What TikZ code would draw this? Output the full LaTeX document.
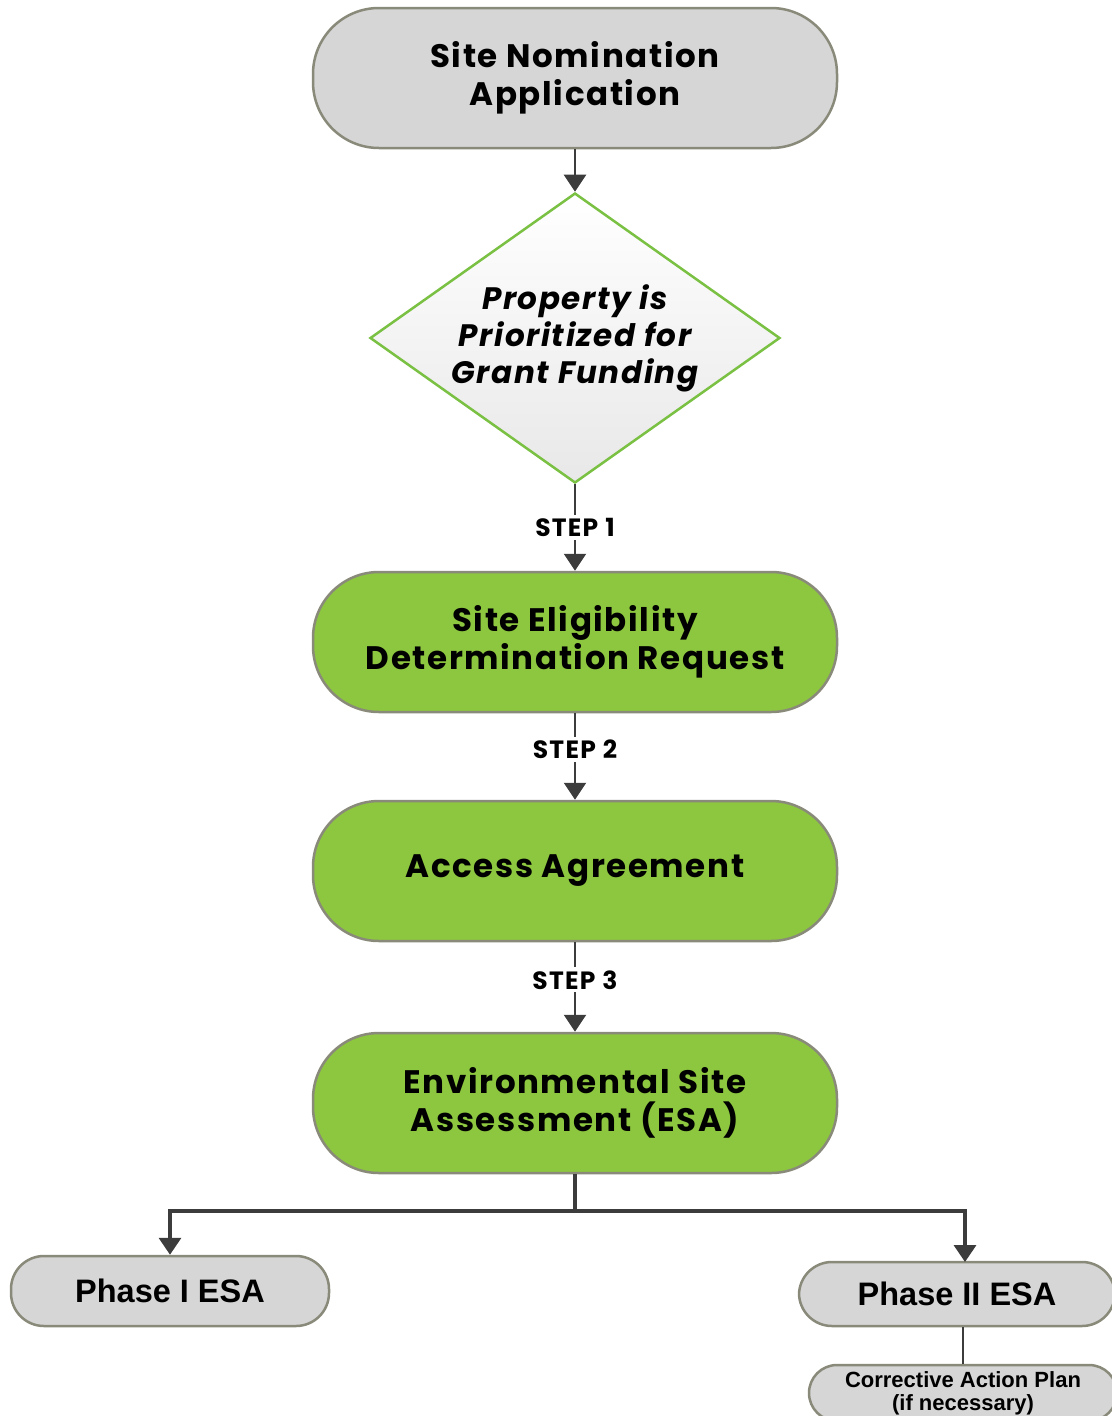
\documentclass[tikz,border=0pt]{standalone}
\usepackage{fontspec}
\setmainfont{Poppins}[LetterSpace=5]
\newfontfamily\arialfont{Liberation Sans}
\usetikzlibrary{arrows.meta,positioning,shapes.geometric}
\definecolor{boxgray}{HTML}{D6D6D6}
\definecolor{boxgreen}{HTML}{8DC63F}
\definecolor{rimgray}{HTML}{8A8A7A}
\definecolor{diagreen}{HTML}{7AC143}
\definecolor{arrowgray}{HTML}{3C3C3C}
\newcommand{\steptext}[1]{STEP\hspace{7pt}#1}
\tikzset{
    stadium/.style={rectangle, rounded corners=66pt, draw=rimgray, line width=2.5pt,
        minimum width=524pt, minimum height=140pt, align=center,
        font=\fontsize{32.5}{38}\selectfont\bfseries},
    graystadium/.style={stadium, fill=boxgray},
    greenstadium/.style={stadium, fill=boxgreen},
    phasebox/.style={rectangle, rounded corners=33pt, draw=rimgray, line width=2.5pt,
        fill=boxgray, align=center, font=\arialfont\fontsize{32.5}{34}\selectfont\bfseries},
    steplabel/.style={fill=white, inner sep=3pt, font=\fontsize{25}{26}\selectfont\bfseries},
    flow/.style={draw=arrowgray, line width=2.5pt, ->},
    >={Triangle[width=22pt,length=17pt]}
}
\begin{document}
\begin{tikzpicture}[x=1pt,y=-1pt]
    \useasboundingbox (0,0) rectangle (1111,1416);

    % Main column
    \node[graystadium] (nomination) at (575,78) {Site Nomination\\Application};
    \node[diamond, draw=diagreen, line width=2.5pt, top color=white, bottom color=gray!18,
        minimum width=410pt, minimum height=290pt, inner sep=0pt] (priority) at (575,338) {};
    \node[align=center, font=\fontsize{31}{37}\selectfont\bfseries\itshape] (prioritytext)
        at (priority) {Property is\\Prioritized for\\Grant Funding};
    \node[greenstadium] (eligibility) at (575,642) {Site Eligibility\\Determination Request};
    \node[greenstadium] (access) at (575,871) {Access Agreement};
    \node[greenstadium] (assessment) at (575,1103) {Environmental Site\\Assessment (ESA)};

    % Phases
    \node[phasebox, minimum width=318pt, minimum height=70pt] (phase1) at (170,1291) {Phase I ESA};
    \node[phasebox, minimum width=316pt, minimum height=64pt] (phase2) at (957,1294) {Phase II ESA};
    \node[phasebox, rounded corners=28pt, minimum width=308pt, minimum height=56pt,
        font=\arialfont\fontsize{22}{23}\selectfont\bfseries] (corrective) at (963,1393)
        {Corrective Action Plan\\(if necessary)};
    \coordinate (split) at (575,1211);
    \coordinate (phase2in) at (965,1262);

    % Connectors
    \draw[flow] (nomination) -- (priority);
    \draw[flow] (priority) -- node[steplabel, pos=0.5] {\steptext{1}} (eligibility);
    \draw[flow] (eligibility) -- node[steplabel, pos=0.42] {\steptext{2}} (access);
    \draw[flow] (access) -- node[steplabel, pos=0.42] {\steptext{3}} (assessment);
    \draw[draw=arrowgray, line width=4pt] (assessment) -- (split);
    \draw[flow, line width=3.5pt] (split) -| (phase1);
    \draw[flow, line width=3.5pt] (split) -| (phase2in);
    \draw[draw=arrowgray, line width=2.5pt] (phase2.south -| corrective) -- (corrective);

\end{tikzpicture}
\end{document}
